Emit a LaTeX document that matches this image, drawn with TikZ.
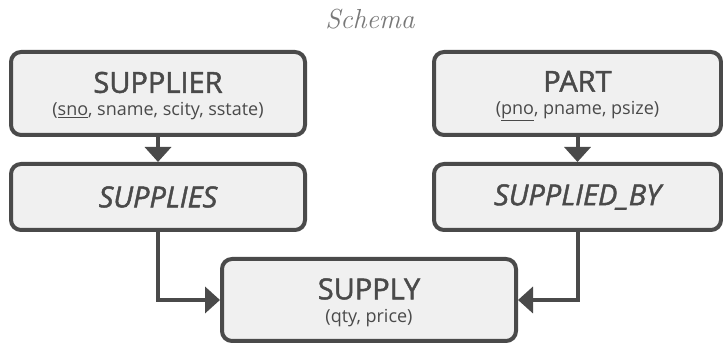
\documentclass[tikz,border=0pt]{standalone}
\usepackage{fontspec}
\usepackage{tikz}
\usetikzlibrary{arrows, arrows.meta}
\usetikzlibrary{positioning}
\usepackage{xcolor}
\newfontfamily\boxfont{Open Sans}
\newfontfamily\headfont[FakeBold=1.6]{Open Sans}
\definecolor{edgegray}{HTML}{4A4A4A}
\definecolor{fillgray}{HTML}{F0F0F0}
\definecolor{titlegray}{HTML}{787878}

\tikzset{
  entity/.style={draw=edgegray, line width=4pt, fill=fillgray, rounded corners=10pt,
    text=edgegray, align=center, inner sep=0pt, font=\boxfont\fontsize{18}{23}\selectfont},
  link/.style={draw=edgegray, line width=4pt, -{Triangle[width=26pt, length=15pt]}}
}
\newcommand{\headtext}[1]{\raisebox{-2.5pt}[\height][\depth]{\headfont\fontsize{29}{30}\selectfont #1}}
\newcommand{\subtext}[1]{\raisebox{-2.5pt}[\height][\depth]{#1}}

\begin{document}
\begin{tikzpicture}[x=1pt, y=1pt] % relational schema

\useasboundingbox (0,0) rectangle (723,344);

%title
\node[text=titlegray, font=\fontsize{25}{28}\selectfont\itshape] (title) at (370,325) {\scalebox{1.1}{Schema}};

%entity boxes
\node[entity, minimum width=294pt, minimum height=83pt] (supplier) at (158,250.5)
  {\headtext{SUPPLIER}\\\subtext{(\underline{sno}, sname, scity, sstate)}};
\node[entity, minimum width=294pt, minimum height=66pt] (supplies) at (158,147)
  {{\headfont\fontsize{29}{30}\selectfont\itshape SUPPLIES}};

\node[entity, minimum width=287pt, minimum height=83pt] (part) at (577.5,250.5)
  {\headtext{PART}\\\subtext{(\underline{pno}, pname, psize)}};
\node[entity, minimum width=287pt, minimum height=66pt] (suppliedby) at (577.5,147)
  {{\headfont\fontsize{29}{30}\selectfont\itshape SUPPLIED\_BY}};

\node[entity, minimum width=294pt, minimum height=82pt] (supply) at (369,44)
  {\headtext{SUPPLY}\\\subtext{(qty, price)}};

%arrows
\draw[link] (supplier) -- (supplies);
\draw[link] (part) -- (suppliedby);
\draw[link] (supplies.south) |- (supply.west);
\draw[link] (suppliedby.south) |- (supply.east);

\end{tikzpicture}
\end{document}
